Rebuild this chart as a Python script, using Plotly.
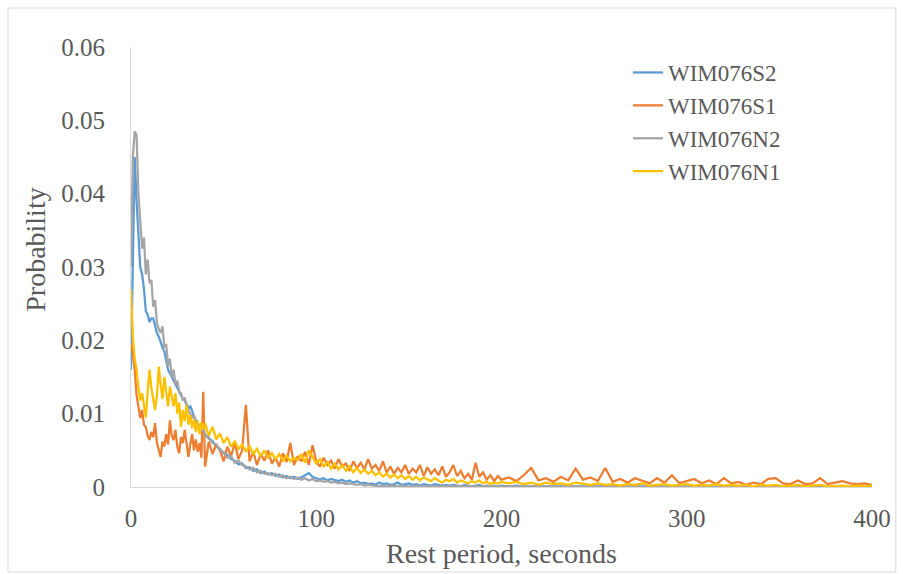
import plotly.graph_objects as go

# Rest period (seconds) sample positions
seconds_a = list(range(0, 41))          # 41 values
seconds_b = list(range(42, 201, 2))     # 80 values
seconds_c = list(range(204, 401, 4))    # 50 values
seconds = seconds_a + seconds_b + seconds_c

series_names = ["WIM076S2", "WIM076S1", "WIM076N2", "WIM076N1"]

# WIM076S2 (blue)
s2_a = [0.0160, 0.0310, 0.0450, 0.0390, 0.0335, 0.0300, 0.0290, 0.0270, 0.0240, 0.0235,
        0.0225, 0.0230, 0.0230, 0.0220, 0.0210, 0.0205, 0.0196, 0.0190, 0.0185, 0.0170,
        0.0160, 0.0155, 0.0150, 0.0145, 0.0140, 0.0135, 0.0128, 0.0125, 0.0120, 0.0118,
        0.0112, 0.0108, 0.0110, 0.0104, 0.0095, 0.0092, 0.0088, 0.0080, 0.0078, 0.0073,
        0.0072]
s2_b = [0.0066, 0.0063, 0.0055, 0.0052, 0.0046, 0.0044, 0.0038, 0.0036, 0.0031, 0.0032,
        0.0026, 0.0027, 0.0022, 0.0024, 0.0019, 0.0021, 0.0017, 0.0019, 0.0015, 0.0017,
        0.0013, 0.0015, 0.0012, 0.0014, 0.0011, 0.0013, 0.0016, 0.0019, 0.0014, 0.0012,
        0.0010, 0.0012, 0.0009, 0.0011, 0.0010, 0.0008, 0.0010, 0.0007, 0.0009, 0.0006,
        0.0008, 0.0005, 0.0006, 0.0004, 0.0005, 0.0003, 0.0006, 0.0004, 0.0005, 0.0003,
        0.0004, 0.0006, 0.0003, 0.0004, 0.0005, 0.0003, 0.0004, 0.0002, 0.0004, 0.0003,
        0.0002, 0.0004, 0.0003, 0.0002, 0.0003, 0.0002, 0.0003, 0.0002, 0.0001, 0.0003,
        0.0002, 0.0001, 0.0002, 0.0003, 0.0001, 0.0002, 0.0001, 0.0002, 0.0001, 0.0002]
s2_c = [0.0001, 0.0002, 0.0001, 0.0001, 0.0002, 0.0001, 0.0001, 0.0001, 0.0002, 0.0001,
        0.0001, 0.0001, 0.0001, 0.0002, 0.0001, 0.0001, 0.0001, 0.0001, 0.0001, 0.0001,
        0.0001, 0.0001, 0.0001, 0.0001, 0.0001, 0.0001, 0.0001, 0.0001, 0.0000, 0.0001,
        0.0001, 0.0000, 0.0001, 0.0001, 0.0000, 0.0001, 0.0000, 0.0001, 0.0000, 0.0001,
        0.0000, 0.0001, 0.0000, 0.0001, 0.0000, 0.0000, 0.0001, 0.0000, 0.0000, 0.0000]

# WIM076S1 (orange)
s1_a = [0.0195, 0.0183, 0.0160, 0.0125, 0.0110, 0.0094, 0.0105, 0.0085, 0.0082, 0.0070,
        0.0064, 0.0075, 0.0068, 0.0087, 0.0060, 0.0052, 0.0041, 0.0062, 0.0055, 0.0072,
        0.0058, 0.0091, 0.0070, 0.0064, 0.0078, 0.0055, 0.0046, 0.0068, 0.0060, 0.0078,
        0.0062, 0.0041, 0.0058, 0.0072, 0.0050, 0.0065, 0.0048, 0.0060, 0.0040, 0.0130,
        0.0028]
s1_b = [0.0062, 0.0045, 0.0058, 0.0050, 0.0035, 0.0055, 0.0042, 0.0060, 0.0038, 0.0050,
        0.0112, 0.0035, 0.0048, 0.0030, 0.0045, 0.0036, 0.0050, 0.0032, 0.0040, 0.0028,
        0.0046, 0.0034, 0.0060, 0.0030, 0.0042, 0.0035, 0.0048, 0.0030, 0.0057, 0.0035,
        0.0028, 0.0040, 0.0030, 0.0036, 0.0025, 0.0038, 0.0028, 0.0032, 0.0022, 0.0035,
        0.0026, 0.0033, 0.0024, 0.0038, 0.0025, 0.0030, 0.0022, 0.0035, 0.0020, 0.0028,
        0.0018, 0.0026, 0.0020, 0.0030, 0.0018, 0.0025, 0.0020, 0.0030, 0.0015, 0.0027,
        0.0018, 0.0024, 0.0016, 0.0028, 0.0014, 0.0020, 0.0030, 0.0015, 0.0022, 0.0012,
        0.0018, 0.0010, 0.0033, 0.0014, 0.0020, 0.0010, 0.0016, 0.0008, 0.0015, 0.0010]
s1_c = [0.0013, 0.0008, 0.0016, 0.0026, 0.0009, 0.0012, 0.0007, 0.0014, 0.0009, 0.0025,
        0.0010, 0.0013, 0.0008, 0.0026, 0.0007, 0.0011, 0.0006, 0.0012, 0.0009, 0.0005,
        0.0012, 0.0006, 0.0016, 0.0005, 0.0008, 0.0011, 0.0005, 0.0009, 0.0004, 0.0012,
        0.0005, 0.0007, 0.0003, 0.0006, 0.0004, 0.0011, 0.0012, 0.0005, 0.0004, 0.0009,
        0.0004, 0.0005, 0.0012, 0.0004, 0.0006, 0.0008, 0.0005, 0.0004, 0.0005, 0.0003]

# WIM076N2 (grey)
n2_a = [0.0300, 0.0450, 0.0485, 0.0480, 0.0400, 0.0360, 0.0325, 0.0340, 0.0290, 0.0310,
        0.0278, 0.0282, 0.0246, 0.0255, 0.0224, 0.0215, 0.0210, 0.0219, 0.0190, 0.0195,
        0.0165, 0.0175, 0.0150, 0.0160, 0.0140, 0.0145, 0.0130, 0.0128, 0.0118, 0.0122,
        0.0110, 0.0105, 0.0100, 0.0095, 0.0098, 0.0088, 0.0085, 0.0082, 0.0076, 0.0080,
        0.0070]
n2_b = [0.0068, 0.0060, 0.0058, 0.0050, 0.0048, 0.0040, 0.0042, 0.0033, 0.0036, 0.0030,
        0.0028, 0.0024, 0.0026, 0.0020, 0.0022, 0.0018, 0.0019, 0.0016, 0.0018, 0.0014,
        0.0016, 0.0012, 0.0014, 0.0011, 0.0013, 0.0010, 0.0012, 0.0009, 0.0011, 0.0008,
        0.0009, 0.0007, 0.0008, 0.0006, 0.0007, 0.0005, 0.0006, 0.0004, 0.0005, 0.0004,
        0.0003, 0.0004, 0.0002, 0.0003, 0.0002, 0.0002, 0.0001, 0.0002, 0.0001, 0.0002,
        0.0001, 0.0001, 0.0002, 0.0001, 0.0001, 0.0001, 0.0002, 0.0001, 0.0001, 0.0001,
        0.0001, 0.0001, 0.0001, 0.0001, 0.0001, 0.0001, 0.0001, 0.0001, 0.0001, 0.0001,
        0.0001, 0.0000, 0.0001, 0.0001, 0.0000, 0.0001, 0.0001, 0.0000, 0.0001, 0.0000]
n2_c = [0.0001, 0.0000, 0.0001, 0.0000, 0.0001, 0.0000, 0.0000, 0.0001, 0.0000, 0.0000,
        0.0000, 0.0001, 0.0000, 0.0000, 0.0000, 0.0001, 0.0000, 0.0000, 0.0000, 0.0000,
        0.0000, 0.0000, 0.0001, 0.0000, 0.0000, 0.0000, 0.0000, 0.0000, 0.0000, 0.0000,
        0.0000, 0.0000, 0.0000, 0.0000, 0.0000, 0.0001, 0.0000, 0.0000, 0.0000, 0.0000,
        0.0000, 0.0000, 0.0000, 0.0000, 0.0000, 0.0000, 0.0000, 0.0000, 0.0000, 0.0000]

# WIM076N1 (gold)
n1_a = [0.0270, 0.0205, 0.0175, 0.0160, 0.0135, 0.0118, 0.0128, 0.0110, 0.0095, 0.0130,
        0.0160, 0.0135, 0.0119, 0.0105, 0.0125, 0.0164, 0.0140, 0.0120, 0.0150, 0.0125,
        0.0110, 0.0137, 0.0120, 0.0110, 0.0128, 0.0100, 0.0115, 0.0082, 0.0105, 0.0090,
        0.0112, 0.0085, 0.0098, 0.0080, 0.0092, 0.0075, 0.0090, 0.0072, 0.0088, 0.0078,
        0.0087]
n1_b = [0.0070, 0.0082, 0.0065, 0.0073, 0.0060, 0.0068, 0.0055, 0.0062, 0.0052, 0.0058,
        0.0048, 0.0056, 0.0045, 0.0052, 0.0042, 0.0050, 0.0040, 0.0046, 0.0038, 0.0045,
        0.0036, 0.0043, 0.0035, 0.0040, 0.0037, 0.0045, 0.0033, 0.0050, 0.0040, 0.0032,
        0.0038, 0.0028, 0.0034, 0.0025, 0.0032, 0.0024, 0.0030, 0.0022, 0.0028, 0.0020,
        0.0026, 0.0019, 0.0024, 0.0018, 0.0022, 0.0016, 0.0020, 0.0014, 0.0018, 0.0013,
        0.0017, 0.0012, 0.0016, 0.0011, 0.0015, 0.0010, 0.0014, 0.0009, 0.0013, 0.0010,
        0.0008, 0.0012, 0.0009, 0.0006, 0.0010, 0.0008, 0.0011, 0.0006, 0.0009, 0.0007,
        0.0005, 0.0008, 0.0006, 0.0009, 0.0005, 0.0007, 0.0004, 0.0006, 0.0005, 0.0007]
n1_c = [0.0005, 0.0007, 0.0004, 0.0006, 0.0003, 0.0006, 0.0004, 0.0005, 0.0003, 0.0006,
        0.0004, 0.0003, 0.0005, 0.0003, 0.0004, 0.0002, 0.0004, 0.0003, 0.0005, 0.0002,
        0.0003, 0.0004, 0.0002, 0.0003, 0.0004, 0.0002, 0.0003, 0.0002, 0.0004, 0.0002,
        0.0003, 0.0002, 0.0003, 0.0001, 0.0003, 0.0002, 0.0003, 0.0001, 0.0002, 0.0003,
        0.0001, 0.0002, 0.0003, 0.0001, 0.0002, 0.0002, 0.0001, 0.0002, 0.0001, 0.0002]

wim076s2 = s2_a + s2_b + s2_c
wim076s1 = s1_a + s1_b + s1_c
wim076n2 = n2_a + n2_b + n2_c
wim076n1 = n1_a + n1_b + n1_c

y_ticks = [0, 0.01, 0.02, 0.03, 0.04, 0.05, 0.06]
y_tick_labels = ["0", "0.01", "0.02", "0.03", "0.04", "0.05", "0.06"]
x_ticks = [0, 100, 200, 300, 400]

colors = ["#5B9BD5", "#ED7D31", "#A5A5A5", "#FFC000"]
FONT = "Times New Roman, Liberation Serif, serif"
TXT = "#595959"
TICK_SIZE = 25
LEG_SIZE = 23
TITLE_SIZE = 28

fig = go.Figure()
for name, vals, col in zip(series_names, [wim076s2, wim076s1, wim076n2, wim076n1], colors):
    fig.add_trace(go.Scatter(x=seconds, y=vals, mode="lines", name=name,
                             line=dict(color=col, width=2.25)))

L, R, T, B = 131, 25, 47, 87
W, H = 903, 574
pw, ph = W - L - R, H - T - B

fig.update_layout(
    width=W, height=H,
    margin=dict(l=L, r=R, t=T, b=B),
    paper_bgcolor="white", plot_bgcolor="white",
    font=dict(family=FONT, size=TICK_SIZE, color=TXT),
    showlegend=True,
    legend=dict(x=(632 - L) / pw, y=(H - B - 51) / ph, xanchor="left", yanchor="top",
                bgcolor="rgba(0,0,0,0)", font=dict(family=FONT, size=LEG_SIZE, color=TXT)),
    xaxis=dict(range=[0, 400], tickvals=x_ticks, showgrid=False, zeroline=False,
               showline=True, linecolor="#D9D9D9", linewidth=1,
               ticks="outside", ticklen=9, tickcolor="rgba(0,0,0,0)",
               tickfont=dict(family=FONT, size=TICK_SIZE, color=TXT)),
    yaxis=dict(range=[0, 0.06], tickvals=y_ticks, ticktext=y_tick_labels,
               showgrid=False, zeroline=False,
               showline=True, linecolor="#D9D9D9", linewidth=1,
               ticks="outside", ticklen=20, tickcolor="rgba(0,0,0,0)",
               tickfont=dict(family=FONT, size=TICK_SIZE, color=TXT)),
    annotations=[
        dict(text="Rest period, seconds", xref="paper", yref="paper",
             x=(505 - L) / pw, y=(H - B - 553) / ph, xanchor="center", yanchor="middle",
             showarrow=False, font=dict(family=FONT, size=TITLE_SIZE, color=TXT)),
        dict(text="Probability", xref="paper", yref="paper", textangle=-90,
             x=(35 - L) / pw, y=(H - B - 250) / ph, xanchor="center", yanchor="middle",
             showarrow=False, font=dict(family=FONT, size=TITLE_SIZE, color=TXT)),
    ],
    shapes=[
        dict(type="rect", xref="paper", yref="paper",
             x0=(7 - L) / pw, x1=(902 - L) / pw,
             y0=(H - B - 572) / ph, y1=(H - B - 8) / ph,
             line=dict(color="#D9D9D9", width=1), fillcolor="rgba(0,0,0,0)", layer="below"),
    ],
)

fig.write_html("out.html")
